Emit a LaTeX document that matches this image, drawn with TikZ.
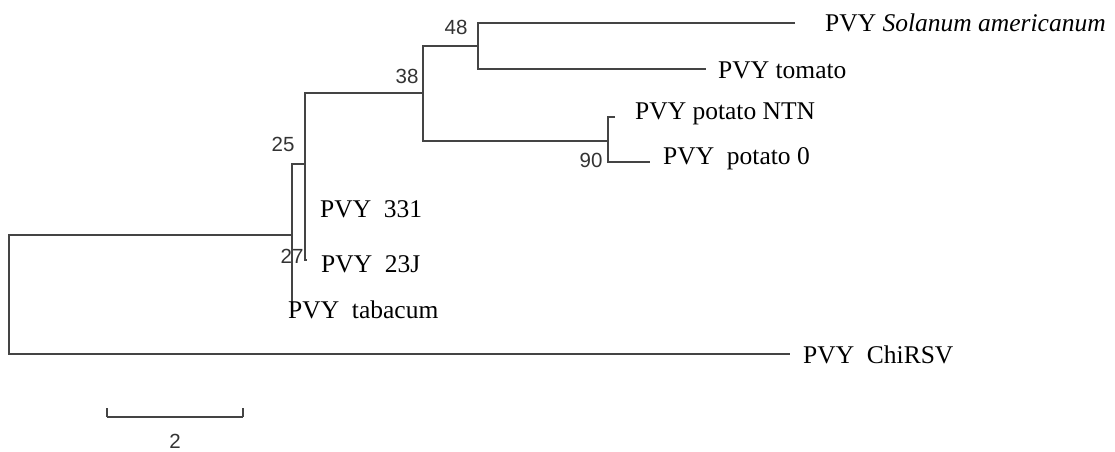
\documentclass[tikz,border=0pt]{standalone}
\usepackage{fontspec}
\setmainfont{Liberation Serif}
\newfontfamily\bootfont{Liberation Sans}
\definecolor{treeline}{HTML}{444444}
\definecolor{boot}{HTML}{333333}
\begin{document}
\begin{tikzpicture}[x=1pt,y=-1pt,
  branch/.style={draw=treeline,line width=2pt},
  leaf/.style={anchor=west,inner sep=0pt,font=\fontsize{25.5}{30}\selectfont,text=black},
  bootlabel/.style={inner sep=0pt,font=\bootfont\fontsize{20.5}{24}\selectfont,text=boot}]
\useasboundingbox (0,0) rectangle (1115,451);
% internal nodes
\coordinate (n27) at (291.7,235);
\coordinate (n25) at (305,164);
\coordinate (n38) at (423,93);
\coordinate (n48) at (478,46);
\coordinate (n90) at (608,141);
% tips
\coordinate (tsol) at (795,23);
\coordinate (ttom) at (706,69);
\coordinate (tntn) at (615,117);
\coordinate (tp0) at (650,162);
\coordinate (t23j) at (307,260);
\coordinate (ttab) at (291.7,307);
\coordinate (tchi) at (790,354);
% branches
\draw[branch] (n27) -| (9,354) -- (tchi);
\draw[branch] (n25) -| (n27) |- (ttab);
\draw[branch] (n38) -| (n25) |- (t23j);
\draw[branch] (n48) -| (n38) |- (n90);
\draw[branch] (tsol) -| (n48) |- (ttom);
\draw[branch] (tntn) -| (n90) |- (tp0);
% labels
\node[leaf] (lsol) at (825,23) {PVY \textit{Solanum americanum}};
\node[leaf] (ltom) at (718,70) {PVY tomato};
\node[leaf] (lntn) at (635,114) {PVY potato NTN};
\node[leaf] (lp0) at (663,159) {PVY\ \ potato 0};
\node[leaf] (l331) at (320,209) {PVY\ \ 331};
\node[leaf] (l23j) at (321,264) {PVY\ \ 23J};
\node[leaf] (ltab) at (288,310) {PVY\ \ tabacum};
\node[leaf] (lchi) at (803,355) {PVY\ \ ChiRSV};
% bootstrap values
\node[bootlabel] (b48) at (456,27) {48};
\node[bootlabel] (b38) at (407,76) {38};
\node[bootlabel] (b25) at (283,144) {25};
\node[bootlabel] (b27) at (292,256) {27};
\node[bootlabel] (b90) at (591,160) {90};
% scale bar
\coordinate (sL) at (107,417);
\coordinate (sR) at (243,417);
\draw[branch,line width=1.8pt] (sL) -- (sR);
\draw[branch,line width=1.8pt] (sL) -- ++(0,-9);
\draw[branch,line width=1.8pt] (sR) -- ++(0,-9);
\node[bootlabel] (s2) at (175,441) {2};
\end{tikzpicture}
\end{document}
